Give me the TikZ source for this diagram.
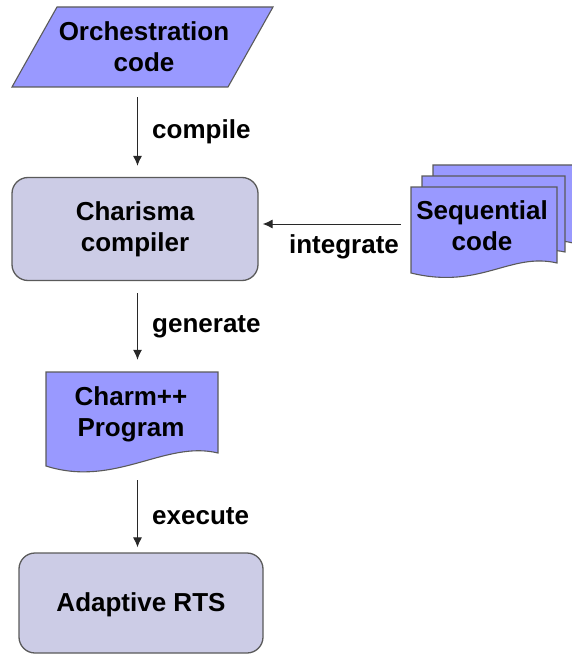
\documentclass[tikz,border=0pt]{standalone}
\usepackage{fontspec}
\setmainfont{Liberation Sans}
\usetikzlibrary{arrows.meta}
\definecolor{docblue}{RGB}{153,153,255}
\definecolor{boxlav}{RGB}{204,204,230}
\definecolor{edgegray}{RGB}{90,90,90}
\definecolor{arrgray}{RGB}{40,40,40}
\begin{document}
\begin{tikzpicture}[x=1pt,y=-1pt,
  txt/.style={font=\fontsize{26}{31}\selectfont\bfseries, align=center, inner sep=0pt},
  rbox/.style={draw=edgegray, line width=1.3pt, fill=boxlav, rounded corners=16pt, inner sep=0pt},
  shp/.style={draw=edgegray, line width=1.1pt, fill=docblue},
  frame/.style={inner sep=0pt, draw=none},
  arr/.style={-{Latex[length=10pt,width=9pt]}, line width=1pt, arrgray},
]
\useasboundingbox (0,0) rectangle (572,655);

% spine for vertical connectors
\coordinate (spine) at (137.5,0);

% Orchestration code (parallelogram)
\draw[shp] (57,7) -- (273,7) -- (228,87) -- (12,87) -- cycle;
\node[frame, minimum width=261pt, minimum height=80pt] (orch) at (142.5,47) {};
\node[txt] (orchtxt) at (144,47) {Orchestration\\code};

% Charisma compiler
\node[rbox, minimum width=246pt, minimum height=103pt] (char) at (135,229) {};
\node[txt] (chartxt) at (135,229) {Charisma\\compiler};

% Sequential code stack
\draw[shp] (433,165) -- (573,165) -- (573,243) .. controls (530,232) and (500,268) .. (433,253) -- cycle;
\draw[shp] (422,176) -- (565,176) -- (565,252) .. controls (520,242) and (490,278) .. (422,264) -- cycle;
\draw[shp] (411,187) -- (557,187) -- (557,263) .. controls (510,252) and (480,290) .. (411,273) -- cycle;
\node[frame, minimum width=146pt, minimum height=90pt] (seq) at (484,232) {};
\node[txt] (seqtxt) at (482,226) {Sequential\\code};

% Charm++ Program (document)
\draw[shp] (46,372) -- (218,372) -- (218,453) .. controls (165,440) and (115,488) .. (46,466) -- cycle;
\node[frame, minimum width=172pt, minimum height=100pt] (charm) at (132,422) {};
\node[txt] (charmtxt) at (131,414) {Charm++\\Program};

% Adaptive RTS
\node[rbox, minimum width=244pt, minimum height=100pt] (rts) at (141,603) {};
\node[txt] (rtstxt) at (141,605) {Adaptive RTS};

% connectors
\draw[arr, shorten <=10pt, shorten >=11pt] (orch.south -| spine) -- (char.north -| spine);
\draw[arr, shorten <=12pt, shorten >=12pt] (char.south -| spine) -- (charm.north -| spine);
\draw[arr, shorten <=8pt, shorten >=5pt] (charm.south -| spine) -- (rts.north -| spine);
\draw[arr, shorten <=10pt, shorten >=4pt] (seq.west |- 0,224) -- (char.east |- 0,224);

% labels
\node[txt, anchor=west] (lcompile) at (152,132) {compile};
\node[txt, anchor=west] (lgenerate) at (152,327) {generate};
\node[txt, anchor=west] (lexecute) at (152,516) {execute};
\node[txt] (lintegrate) at (344,247) {integrate};
\end{tikzpicture}
\end{document}
